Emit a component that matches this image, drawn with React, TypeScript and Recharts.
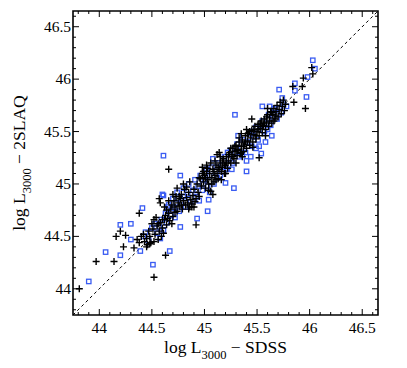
import React from "react";
import { ScatterChart, Scatter, XAxis, YAxis, ReferenceArea, ReferenceLine } from "recharts";

const DOMAIN: [number, number] = [43.75, 46.65];
const majorTicks = [44, 44.5, 45, 45.5, 46, 46.5];
const tickLabels = ["44", "44.5", "45", "45.5", "46", "46.5"];
const allTicks = [43.8, 43.9, 44, 44.1, 44.2, 44.3, 44.4, 44.5, 44.6, 44.7, 44.8, 44.9, 45, 45.1, 45.2, 45.3, 45.4, 45.5, 45.6, 45.7, 45.8, 45.9, 46, 46.1, 46.2, 46.3, 46.4, 46.5, 46.6];

const plusPoints: [number, number][] = [
  [43.81, 44.0], [43.97, 44.26], [44.14, 44.26], [44.2, 44.55], [44.16, 44.5], [44.25, 44.51], [44.23, 44.4], [44.33, 44.39],
  [44.38, 44.72], [44.52, 44.11], [44.66, 45.14], [44.63, 44.32], [44.92, 44.61], [45.96, 45.72], [45.85, 45.78], [45.93, 45.93],
  [45.84, 45.93], [45.94, 46.01], [46.02, 46.11], [46.03, 46.05], [45.52, 45.25],
  [44.36, 44.47], [44.38, 44.44], [44.4, 44.5], [44.42, 44.52], [44.43, 44.45], [44.45, 44.48], [44.46, 44.42], [44.47, 44.55],
  [44.48, 44.5], [44.49, 44.44], [44.5, 44.62], [44.51, 44.57], [44.52, 44.66], [44.53, 44.52], [44.54, 44.68], [44.55, 44.6],
  [44.56, 44.47], [44.57, 44.55], [44.58, 44.63], [44.59, 44.5], [44.6, 44.58], [44.61, 44.53], [44.62, 44.66], [44.63, 44.7],
  [44.64, 44.61], [44.65, 44.67], [44.58, 44.82], [44.57, 44.86], [44.62, 44.78], [44.45, 44.4], [44.48, 44.43], [44.52, 44.45],
  [44.66, 44.72], [44.67, 44.65], [44.68, 44.76], [44.69, 44.8], [44.7, 44.69], [44.71, 44.84], [44.72, 44.78], [44.73, 44.88],
  [44.74, 44.74], [44.75, 44.82], [44.76, 44.79], [44.77, 44.86], [44.78, 44.9], [44.79, 44.76], [44.8, 44.84], [44.81, 44.95],
  [44.82, 44.8], [44.83, 44.87], [44.84, 44.82], [44.85, 44.92], [44.86, 44.78], [44.87, 44.85], [44.88, 44.81], [44.89, 44.89],
  [44.9, 44.95], [44.91, 44.83], [44.92, 44.86], [44.93, 45.0], [44.94, 44.92], [44.95, 44.88], [44.8, 45.0], [44.83, 44.97],
  [44.86, 45.02], [44.7, 44.9], [44.74, 44.96], [44.66, 44.84], [44.88, 44.78],
  [44.96, 45.05], [44.97, 44.98], [44.98, 45.1], [44.99, 45.02], [45.0, 45.08], [45.01, 44.96], [45.02, 45.12], [45.03, 45.04],
  [45.04, 45.0], [45.05, 45.1], [45.06, 44.93], [45.07, 45.06], [45.08, 45.14], [45.09, 45.02], [45.1, 45.08], [45.11, 45.18],
  [45.12, 45.1], [45.13, 45.05], [45.14, 45.14], [45.15, 45.2], [45.16, 45.12], [45.17, 45.16], [45.18, 45.24], [45.19, 45.1],
  [45.2, 45.18], [45.21, 45.26], [45.22, 45.15], [45.23, 45.22], [45.24, 45.3], [45.25, 45.2], [44.98, 45.16], [45.02, 45.18],
  [45.06, 45.2], [45.12, 45.28], [45.08, 44.9], [45.04, 44.94], [45.16, 45.04], [45.2, 45.1], [45.1, 45.22], [45.14, 45.3],
  [45.26, 45.28], [45.27, 45.34], [45.28, 45.24], [45.29, 45.31], [45.3, 45.37], [45.31, 45.27], [45.32, 45.33], [45.33, 45.4],
  [45.34, 45.29], [45.35, 45.36], [45.36, 45.42], [45.37, 45.31], [45.38, 45.38], [45.39, 45.46], [45.4, 45.34], [45.41, 45.41],
  [45.42, 45.48], [45.43, 45.37], [45.44, 45.44], [45.45, 45.51], [45.46, 45.4], [45.47, 45.47], [45.48, 45.55], [45.49, 45.43],
  [45.5, 45.5], [45.51, 45.57], [45.52, 45.46], [45.53, 45.53], [45.54, 45.6], [45.55, 45.49], [45.3, 45.2], [45.36, 45.26],
  [45.4, 45.52], [45.35, 45.48], [45.45, 45.62], [45.46, 45.35],
  [45.56, 45.56], [45.57, 45.62], [45.58, 45.52], [45.59, 45.59], [45.6, 45.66], [45.61, 45.55], [45.62, 45.63], [45.63, 45.69],
  [45.64, 45.58], [45.65, 45.66], [45.66, 45.72], [45.67, 45.62], [45.68, 45.69], [45.69, 45.75], [45.7, 45.64], [45.71, 45.71],
  [45.72, 45.78], [45.73, 45.67], [45.74, 45.74], [45.75, 45.8], [45.76, 45.7], [45.77, 45.76], [45.6, 45.72], [45.58, 45.46],
  [45.66, 45.6],
  [44.85, 44.76], [44.9, 44.78], [44.95, 45.06], [44.99, 45.12], [45.01, 45.06], [45.03, 45.15], [45.07, 45.0], [45.09, 45.12],
  [45.11, 45.04], [45.13, 45.16], [45.15, 45.26], [45.17, 45.22], [45.19, 45.18], [45.21, 45.2], [45.23, 45.28], [45.25, 45.34],
  [45.27, 45.26], [45.29, 45.36], [45.31, 45.32], [45.33, 45.44], [45.35, 45.3], [45.37, 45.36], [45.39, 45.4], [45.41, 45.48],
  [45.43, 45.5], [45.47, 45.52], [45.49, 45.46], [45.51, 45.52], [45.53, 45.58], [45.55, 45.55], [45.57, 45.58], [45.59, 45.64],
  [45.62, 45.6], [45.64, 45.68], [45.68, 45.65], [44.76, 44.88], [44.78, 44.8], [44.72, 44.73], [44.69, 44.62], [44.64, 44.75],
  [44.56, 44.62], [44.6, 44.66],
];

const squarePoints: [number, number][] = [
  [43.9, 44.07], [44.06, 44.35], [44.2, 44.61], [44.2, 44.32], [44.3, 44.62], [44.3, 44.47], [44.41, 44.77], [44.39, 44.36],
  [44.51, 44.23], [44.61, 45.27], [44.67, 44.36], [44.77, 45.08], [44.77, 44.59], [44.61, 44.89], [44.93, 44.67], [45.03, 44.74],
  [45.04, 44.85], [45.2, 45.01], [45.28, 44.96], [45.29, 45.66], [45.4, 45.22], [45.49, 45.34], [45.54, 45.29], [45.64, 45.46],
  [45.55, 45.74], [45.71, 45.9], [45.74, 45.82], [45.86, 45.96], [45.97, 45.83], [46.03, 46.18], [46.05, 46.1], [45.98, 46.02],
  [45.86, 45.89], [45.78, 45.74],
  [44.42, 44.5], [44.44, 44.54], [44.47, 44.46], [44.5, 44.58], [44.53, 44.62], [44.55, 44.53], [44.58, 44.48], [44.59, 44.66],
  [44.61, 44.56], [44.63, 44.72], [44.64, 44.63], [44.66, 44.8], [44.68, 44.7], [44.7, 44.86], [44.71, 44.77], [44.73, 44.82],
  [44.74, 44.92], [44.76, 44.74], [44.78, 44.84], [44.8, 44.96], [44.82, 44.78], [44.84, 44.9], [44.85, 45.0], [44.87, 44.83],
  [44.89, 44.94], [44.91, 45.04], [44.92, 44.88], [44.94, 44.98], [44.96, 45.08], [44.98, 44.94], [45.0, 45.04], [45.02, 45.14],
  [45.03, 44.98], [45.05, 45.08], [45.07, 45.16], [45.09, 45.0], [45.11, 45.12], [45.13, 45.2], [45.15, 45.08], [45.17, 45.18],
  [45.19, 45.26], [45.21, 45.14], [45.23, 45.24], [45.25, 45.32], [45.27, 45.2], [45.29, 45.3], [45.31, 45.38], [45.33, 45.26],
  [45.35, 45.34], [45.37, 45.42], [45.39, 45.3], [45.41, 45.4], [45.43, 45.48], [45.45, 45.36], [45.47, 45.45], [45.49, 45.54],
  [45.51, 45.42], [45.53, 45.52], [45.55, 45.6], [45.57, 45.5], [45.59, 45.58], [45.61, 45.66], [45.63, 45.56], [45.65, 45.64],
  [45.67, 45.7], [45.69, 45.62], [45.71, 45.72], [45.73, 45.68], [45.75, 45.76], [44.6, 44.9], [44.65, 44.78], [44.72, 44.68],
  [44.95, 44.84], [45.08, 45.24], [45.05, 44.92], [45.26, 45.14], [45.32, 45.46], [45.44, 45.26], [45.58, 45.4], [45.4, 45.12],
  [45.62, 45.74],
  [44.57, 44.59], [44.69, 44.75], [44.75, 44.86], [44.81, 44.88], [44.99, 45.0], [45.01, 45.1], [45.12, 45.06], [45.18, 45.12],
  [45.22, 45.3], [45.36, 45.28], [45.46, 45.5], [45.52, 45.36], [45.6, 45.52], [45.66, 45.72],
];

const plusData = plusPoints.map(([x, y]) => ({ x, y }));
const squareData = squarePoints.map(([x, y]) => ({ x, y }));

const W = 399;
const H = 360;
const M = { top: 3, right: 29, bottom: 23, left: 5 };
const YW = 60;
const XH = 30;
const LEFT = M.left + YW;
const RIGHT = W - M.right;
const TOP = M.top;
const BOTTOM = H - M.bottom - XH;
const FONT = "'Liberation Serif', 'DejaVu Serif', serif";

const isMajor = (v: number) => majorTicks.some((m) => Math.abs(m - v) < 1e-6);
const labelOf = (v: number) => tickLabels[majorTicks.findIndex((m) => Math.abs(m - v) < 1e-6)];

const XTick = (props: any) => {
  const { x, payload } = props;
  const v = payload.value;
  const major = isMajor(v);
  const len = major ? 6 : 3;
  return (
    <g>
      <line x1={x} x2={x} y1={BOTTOM} y2={BOTTOM - len} stroke="#000" strokeWidth={1} />
      <line x1={x} x2={x} y1={TOP} y2={TOP + len} stroke="#000" strokeWidth={1} />
      {major && (
        <text x={x} y={BOTTOM + 18} textAnchor="middle" fontSize={15.5} fontFamily={FONT} fill="#000">
          {labelOf(v)}
        </text>
      )}
    </g>
  );
};

const YTick = (props: any) => {
  const { y, payload } = props;
  const v = payload.value;
  const major = isMajor(v);
  const len = major ? 6 : 3;
  return (
    <g>
      <line x1={LEFT} x2={LEFT + len} y1={y} y2={y} stroke="#000" strokeWidth={1} />
      <line x1={RIGHT} x2={RIGHT - len} y1={y} y2={y} stroke="#000" strokeWidth={1} />
      {major && (
        <text x={LEFT - 2} y={y + 5} textAnchor="end" fontSize={15.5} fontFamily={FONT} fill="#000">
          {labelOf(v)}
        </text>
      )}
    </g>
  );
};

const PlusShape = (props: any) => {
  const { cx, cy } = props;
  if (cx == null || cy == null) return null;
  return <path d={`M${cx - 3.5},${cy}h7M${cx},${cy - 3.5}v7`} stroke="#000" strokeWidth={1.4} fill="none" />;
};

const SquareShape = (props: any) => {
  const { cx, cy } = props;
  if (cx == null || cy == null) return null;
  return <rect x={cx - 2.2} y={cy - 2.2} width={4.4} height={4.4} stroke="#3a5cf2" strokeWidth={1.3} fill="none" />;
};

const XTitle = () => (
  <text x={(LEFT + RIGHT) / 2} y={BOTTOM + 38} textAnchor="middle" fontSize={17.5} fontFamily={FONT} fill="#000">
    <tspan>log L</tspan>
    <tspan dy={6} fontSize={12.5}>3000</tspan>
    <tspan dy={-6}> − SDSS</tspan>
  </text>
);

const YTitle = () => {
  const cx = 17;
  const cy = (TOP + BOTTOM) / 2;
  return (
    <text x={cx} y={cy} transform={`rotate(-90 ${cx} ${cy})`} textAnchor="middle" fontSize={17.5} fontFamily={FONT} fill="#000">
      <tspan>log L</tspan>
      <tspan dy={6} fontSize={12.5}>3000</tspan>
      <tspan dy={-6}> − 2SLAQ</tspan>
    </text>
  );
};

export default function App() {
  return (
    <div style={{ width: W, height: H, position: "relative" }}>
      <ScatterChart width={W} height={H} margin={M}>
        <XAxis
          type="number"
          dataKey="x"
          domain={DOMAIN}
          allowDataOverflow
          ticks={allTicks}
          interval={0}
          tick={<XTick />}
          tickLine={false}
          axisLine={false}
          height={XH}
        />
        <YAxis
          type="number"
          dataKey="y"
          domain={DOMAIN}
          allowDataOverflow
          ticks={allTicks}
          interval={0}
          tick={<YTick />}
          tickLine={false}
          axisLine={false}
          width={YW}
        />
        <ReferenceLine
          segment={[{ x: DOMAIN[0], y: DOMAIN[0] }, { x: DOMAIN[1], y: DOMAIN[1] }]}
          stroke="#000"
          strokeWidth={1}
          strokeDasharray="3 3"
          ifOverflow="visible"
        />
        <Scatter data={squareData} shape={<SquareShape />} isAnimationActive={false} />
        <Scatter data={plusData} shape={<PlusShape />} isAnimationActive={false} />
        <ReferenceArea
          x1={DOMAIN[0]}
          x2={DOMAIN[1]}
          y1={DOMAIN[0]}
          y2={DOMAIN[1]}
          fill="none"
          fillOpacity={0}
          stroke="#000"
          strokeWidth={1.6}
          ifOverflow="visible"
        />
      </ScatterChart>
      <svg width={W} height={H} style={{ position: "absolute", left: 0, top: 0, pointerEvents: "none" }}>
        <XTitle />
        <YTitle />
      </svg>
    </div>
  );
}
